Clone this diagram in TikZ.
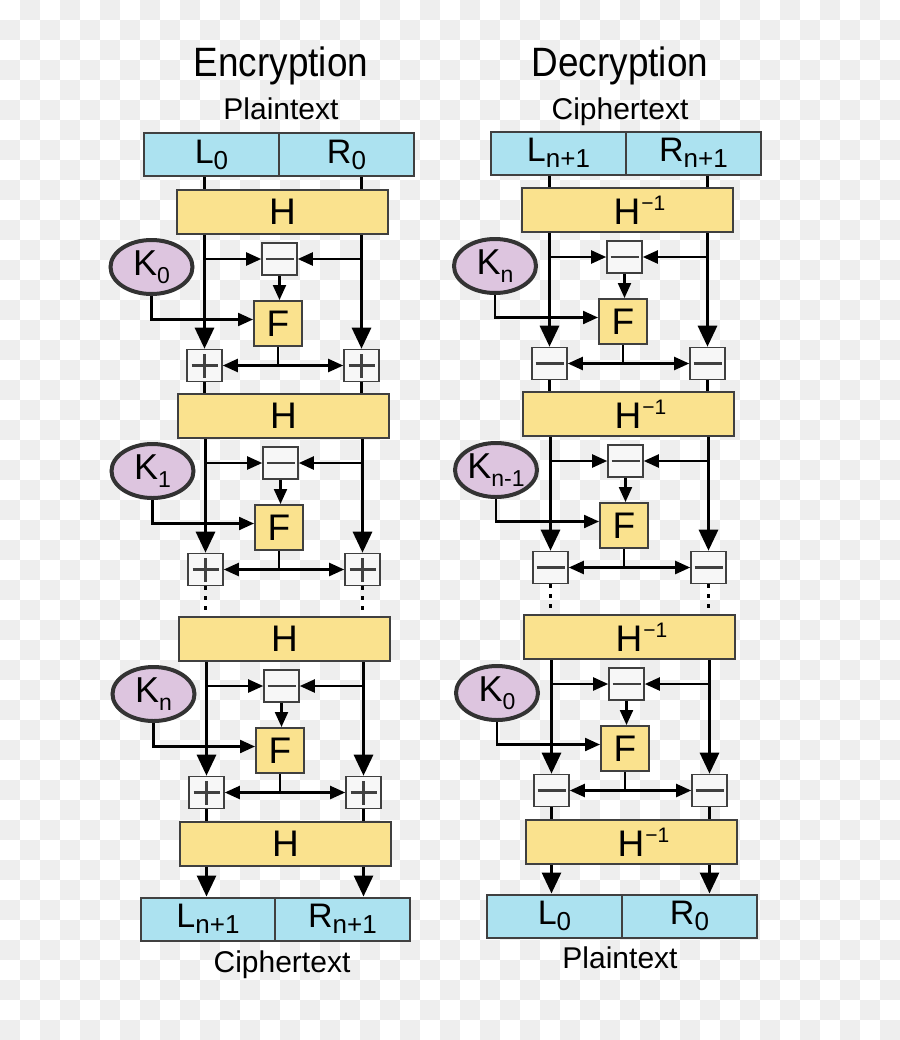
\documentclass[tikz,border=0pt]{standalone}
\usepackage{fontspec}
\setmainfont{Liberation Sans}
\usetikzlibrary{arrows.meta,shapes.geometric}
\definecolor{halfcol}{RGB}{172, 226, 240}
\definecolor{roundcol}{RGB}{250, 226, 142}
\definecolor{keycol}{RGB}{221, 197, 223}
\definecolor{checkcol}{RGB}{238, 238, 238}
\definecolor{edgecol}{RGB}{64, 64, 64}

\newcommand{\subtxt}[1]{\raisebox{-3pt}{\fontsize{13}{13}\selectfont #1}}
\newcommand{\keysub}[1]{\raisebox{-4pt}{\fontsize{11.5}{11.5}\selectfont #1}}
\newcommand{\hinv}{H\rlap{\kern0.5pt\raisebox{7pt}{\fontsize{10.5}{10.5}\selectfont −1}}}

\tikzset{
  halfbox/.style={draw=edgecol, line width=1pt, fill=halfcol, minimum width=67.5pt, minimum height=21.5pt, inner sep=0pt, font=\fontsize{17}{17}\selectfont},
  hbox/.style={draw=edgecol, line width=1pt, fill=roundcol, minimum width=105.5pt, minimum height=22pt, inner sep=0pt, font=\fontsize{18.5}{18.5}\selectfont},
  fbox/.style={draw=edgecol, line width=1pt, fill=roundcol, minimum width=24pt, minimum height=22.5pt, inner sep=0pt, font=\fontsize{18.5}{18.5}\selectfont},
  keynode/.style={ellipse, draw=black!80, line width=2pt, fill=keycol, minimum width=41pt, minimum height=27pt, inner sep=0pt, font=\fontsize{18}{18}\selectfont},
  opbox/.style={draw=edgecol, line width=0.8pt, fill=white!97!black, minimum width=17.5pt, minimum height=16pt, inner sep=0pt},
  addbox/.style={opbox, path picture={
      \draw[line width=1.2pt] ([xshift=-6.5pt]path picture bounding box.center) -- ([xshift=6.5pt]path picture bounding box.center);
      \draw[line width=1.2pt] ([yshift=-6pt]path picture bounding box.center) -- ([yshift=6pt]path picture bounding box.center);}},
  subbox/.style={opbox, path picture={
      \draw[line width=1.2pt] ([xshift=-7pt]path picture bounding box.center) -- ([xshift=7pt]path picture bounding box.center);}},
  bigarrow/.style={line width=1.5pt, -{Triangle[length=10.5pt, width=9.5pt]}},
  smallarrow/.style={line width=1.1pt, -{Triangle[length=7.5pt, width=6.5pt]}},
  bothways/.style={line width=1.1pt, {Triangle[length=7.5pt, width=6.5pt]}-{Triangle[length=7.5pt, width=6.5pt]}},
  thinline/.style={line width=1.1pt},
  linkline/.style={line width=1.3pt},
  dotline/.style={line width=1.5pt, dash pattern=on 2pt off 3pt},
  titletext/.style={font=\fontsize{20.5}{20.5}\selectfont, inner sep=0pt},
  labeltext/.style={font=\fontsize{15}{15}\selectfont, inner sep=0pt}
}

\begin{document}
\begin{tikzpicture}[x=0.5pt, y=-0.5pt]
  \useasboundingbox (0,0) rectangle (900,1040);
  % checkered background
  \fill[white] (0,0) rectangle (900,1040);
  \begin{scope}
    \clip (0,0) rectangle (900,1040);
    \foreach \j in {0,...,51}
      \foreach \i in {0,2,...,44}
        \fill[checkcol] ({(\i+mod(\j+1,2))*20},{\j*20}) rectangle ++(20,20);
  \end{scope}

  % encryption
  \node[titletext, anchor=base] (encTitle) at (281,76) {\scalebox{0.9}[1]{Encryption}};
  \node[labeltext, anchor=base] (encIn) at (281,119) {Plaintext};
  \node[halfbox] (eL) at (211.5,154.5) {L\subtxt{0}};
  \node[halfbox] (eR) at (346.5,154.5) {R\subtxt{0}};
  \foreach \r/\y/\d/\k in {1/190/0/0, 2/394/1/1, 3/617/2/n} {
    \node[hbox] (eH\r) at (282.5+\d,\y+22) {H};
    \node[subbox] (eS\r) at (279.5+\d,\y+69) {};
    \node[fbox] (eF\r) at (278+\d,\y+133.5) {F};
    \node[keynode] (eK\r) at (151.5+\d,\y+77) {K\keysub{\k}};
    \node[addbox] (eAl\r) at (204.5+\d,\y+175.5) {};
    \node[addbox] (eAr\r) at (361.5+\d,\y+175.5) {};
    \draw[bigarrow] (eAl\r |- eH\r.south) -- (eAl\r.north);
    \draw[bigarrow] (eAr\r |- eH\r.south) -- (eAr\r.north);
    \draw[smallarrow] (eAl\r |- eS\r.west) -- (eS\r.west);
    \draw[smallarrow] (eAr\r |- eS\r.east) -- (eS\r.east);
    \draw[smallarrow] (eS\r.south) -- (eS\r.south |- eF\r.north);
    \draw[smallarrow] (eK\r.south) |- ([yshift=2pt]eF\r.west);
    \draw[thinline] (eF\r.south) -- (eF\r.south |- eAl\r.center);
    \draw[bothways] (eAl\r.east) -- (eAr\r.west);
  }
  \node[hbox] (eH4) at (285.5,844) {H};
  \draw[linkline] (eAl1 |- eL.south) -- (eAl1 |- eH1.north);
  \draw[linkline] (eAr1 |- eR.south) -- (eAr1 |- eH1.north);
  \draw[linkline] (eAl1.south) -- (eAl1.south |- eH2.north);
  \draw[linkline] (eAr1.south) -- (eAr1.south |- eH2.north);
  \draw[dotline] (eAl2.south) -- (eAl2.south |- eH3.north);
  \draw[dotline] (eAr2.south) -- (eAr2.south |- eH3.north);
  \draw[linkline] (eAl3.south) -- (eAl3.south |- eH4.north);
  \draw[linkline] (eAr3.south) -- (eAr3.south |- eH4.north);
  \node[halfbox] (eLo) at (208,919) {L\subtxt{n+1}};
  \node[halfbox] (eRo) at (342.5,919) {R\subtxt{n+1}};
  \draw[bigarrow] (eAl3 |- eH4.south) -- (eAl3 |- eLo.north);
  \draw[bigarrow] (eAr3 |- eH4.south) -- (eAr3 |- eRo.north);
  \node[labeltext, anchor=base] (encOut) at (282,972) {Ciphertext};

  % decryption
  \node[titletext, anchor=base] (decTitle) at (620,76) {\scalebox{0.9}[1]{Decryption}};
  \node[labeltext, anchor=base] (decIn) at (620,119) {Ciphertext};
  \node[halfbox] (dL) at (558.5,153) {L\subtxt{n+1}};
  \node[halfbox] (dR) at (693.5,153) {R\subtxt{n+1}};
  \foreach \r/\y/\d/\k in {1/188/0/n, 2/392/1/n-1, 3/615/2/0} {
    \node[hbox] (dH\r) at (627+\d,\y+22) {\hinv};
    \node[subbox] (dS\r) at (624.5+\d,\y+69) {};
    \node[fbox] (dF\r) at (623+\d,\y+133.5) {F};
    \node[keynode] (dK\r) at (495+\d,\y+78) {K\keysub{\k}};
    \node[subbox] (dAl\r) at (549.5+\d,\y+175.5) {};
    \node[subbox] (dAr\r) at (707.5+\d,\y+175.5) {};
    \draw[bigarrow] (dAl\r |- dH\r.south) -- (dAl\r.north);
    \draw[bigarrow] (dAr\r |- dH\r.south) -- (dAr\r.north);
    \draw[smallarrow] (dAl\r |- dS\r.west) -- (dS\r.west);
    \draw[smallarrow] (dAr\r |- dS\r.east) -- (dS\r.east);
    \draw[smallarrow] (dS\r.south) -- (dS\r.south |- dF\r.north);
    \draw[smallarrow] (dK\r.south) |- ([yshift=2pt]dF\r.west);
    \draw[thinline] (dF\r.south) -- (dF\r.south |- dAl\r.center);
    \draw[bothways] (dAl\r.east) -- (dAr\r.west);
  }
  \node[hbox] (dH4) at (631,842) {\hinv};
  \draw[linkline] (dAl1 |- dL.south) -- (dAl1 |- dH1.north);
  \draw[linkline] (dAr1 |- dR.south) -- (dAr1 |- dH1.north);
  \draw[linkline] (dAl1.south) -- (dAl1.south |- dH2.north);
  \draw[linkline] (dAr1.south) -- (dAr1.south |- dH2.north);
  \draw[dotline] (dAl2.south) -- (dAl2.south |- dH3.north);
  \draw[dotline] (dAr2.south) -- (dAr2.south |- dH3.north);
  \draw[linkline] (dAl3.south) -- (dAl3.south |- dH4.north);
  \draw[linkline] (dAr3.south) -- (dAr3.south |- dH4.north);
  \node[halfbox] (dLo) at (554.5,916) {L\subtxt{0}};
  \node[halfbox] (dRo) at (689.5,916) {R\subtxt{0}};
  \draw[bigarrow] (dAl3 |- dH4.south) -- (dAl3 |- dLo.north);
  \draw[bigarrow] (dAr3 |- dH4.south) -- (dAr3 |- dRo.north);
  \node[labeltext, anchor=base] (decOut) at (620,968) {Plaintext};
\end{tikzpicture}
\end{document}
